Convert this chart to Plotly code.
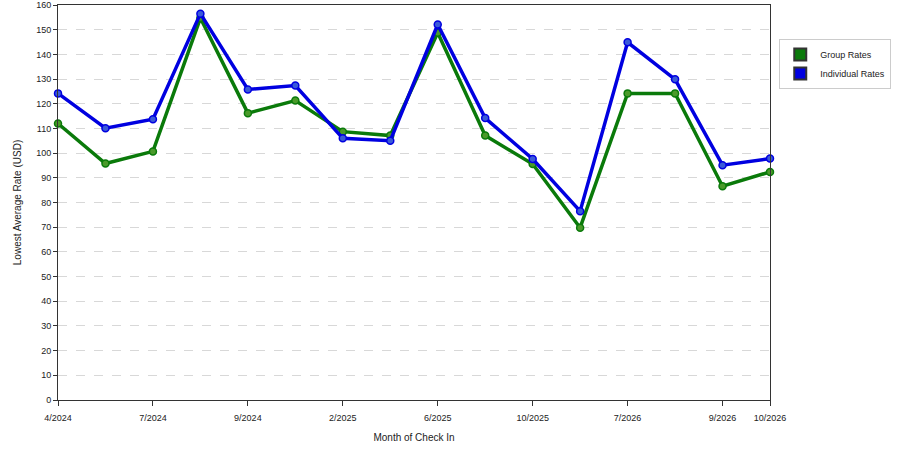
import plotly.graph_objects as go

# month index of each check-in point (16 points), only some months are labelled
point_index = list(range(16))
tick_index = [0, 2, 4, 6, 8, 10, 12, 14, 15]
tick_labels = ["4/2024", "7/2024", "9/2024", "2/2025", "6/2025",
               "10/2025", "7/2026", "9/2026", "10/2026"]

group_rates = [112, 95.8, 100.7, 154.7, 116.2, 121.3, 108.7, 107.1,
               148.8, 107.1, 95.6, 69.8, 124.2, 124.2, 86.6, 92.4]
individual_rates = [124.2, 110.1, 113.7, 156.5, 125.8, 127.4, 106, 105,
                    152.1, 114.2, 97.6, 76.5, 144.9, 129.9, 95.1, 97.8]

font = dict(family="Liberation Sans", size=9, color="#222222")

fig = go.Figure()

series = [
    ("Group Rates", group_rates, "#0a7a0a", "#4a9a2a"),
    ("Individual Rates", individual_rates, "#0000e0", "#3a5ad8"),
]

for name, vals, col, mcol in series:
    fig.add_trace(go.Scatter(
        x=point_index, y=vals,
        mode="lines+markers",
        line=dict(color=col, width=3.5),
        marker=dict(size=7, color=mcol, line=dict(color=col, width=1.5)),
        name=name,
        showlegend=False,
        cliponaxis=False,
        hoverinfo="y"
    ))
    # legend entry as a square
    fig.add_trace(go.Scatter(
        x=[None], y=[None],
        mode="markers",
        marker=dict(symbol="square", size=12, color=col,
                    line=dict(color="#333333", width=1)),
        name=name,
        showlegend=True
    ))

fig.update_layout(
    width=900, height=450,
    paper_bgcolor="white",
    plot_bgcolor="white",
    font=font,
    margin=dict(l=58, r=130, t=5, b=50, autoexpand=False),
    legend=dict(
        x=1.013, y=0.914, xanchor="left", yanchor="top",
        bordercolor="#cccccc", borderwidth=1,
        font=dict(family="Liberation Sans", size=9, color="#222222"),
        itemsizing="constant",
        tracegroupgap=2
    ),
    xaxis=dict(
        range=[0, 15],
        tickmode="array", tickvals=tick_index, ticktext=tick_labels,
        ticks="outside", ticklen=5, tickcolor="#333333",
        ticklabelstandoff=4,
        showline=True, linecolor="#333333", linewidth=1, mirror=True,
        showgrid=False, zeroline=False, automargin=False,
        title=dict(text="Month of Check In", standoff=12,
                   font=dict(family="Liberation Sans", size=10)),
        fixedrange=True
    ),
    yaxis=dict(
        range=[0, 160], dtick=10,
        ticks="outside", ticklen=4, tickcolor="#333333",
        showline=True, linecolor="#333333", linewidth=1, mirror=True,
        showgrid=True, gridcolor="#d8d8d8", griddash="dash", gridwidth=1,
        zeroline=False, automargin=False,
        title=dict(text="Lowest Average Rate (USD)", standoff=12,
                   font=dict(family="Liberation Sans", size=10)),
        fixedrange=True
    )
)

# drop the browser's default page margin so the figure sits at 0,0
fig.write_html("out.html", config={"displayModeBar": False},
               post_script="document.body.style.margin='0';")
